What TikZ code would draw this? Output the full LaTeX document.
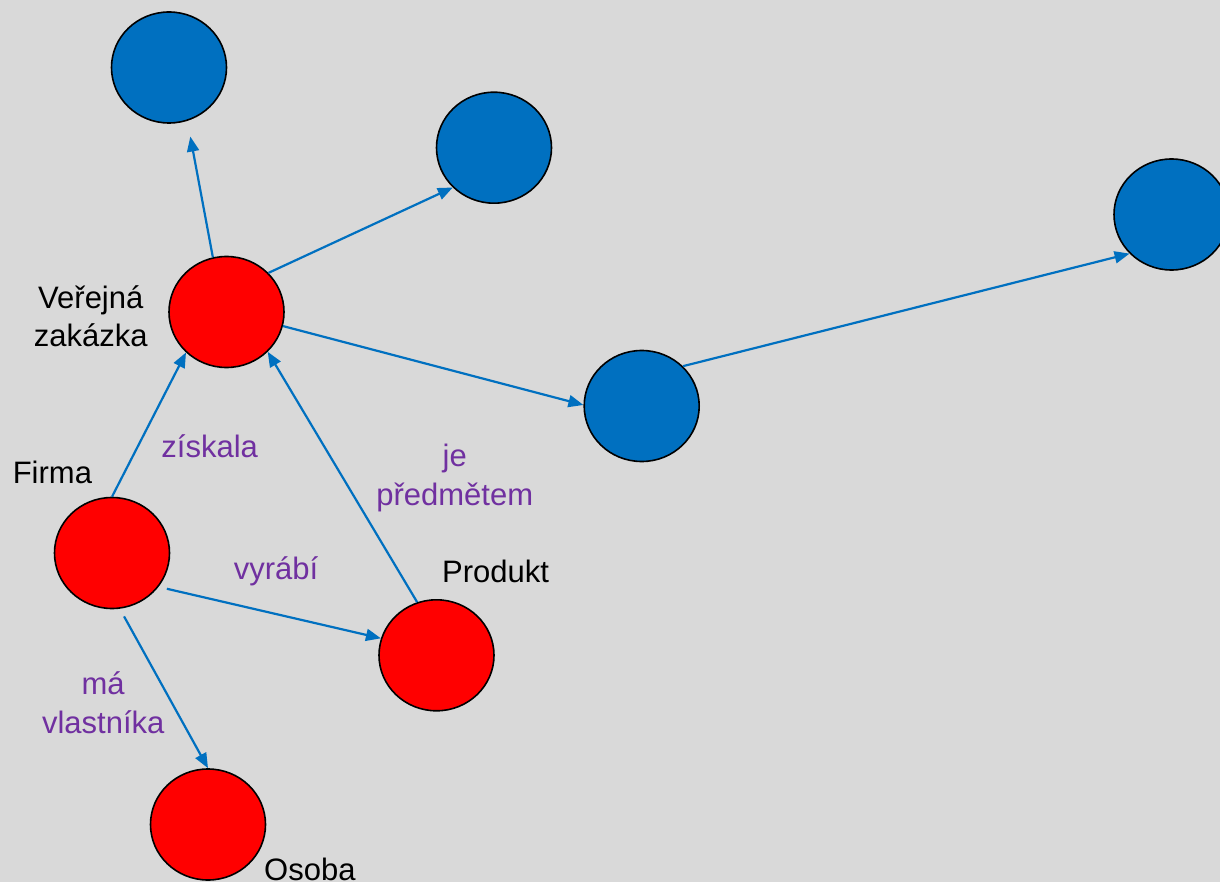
\documentclass[tikz,border=0pt]{standalone}
\usepackage{fontspec}
\setmainfont{Liberation Sans}
\usetikzlibrary{arrows.meta,shapes.geometric}
\definecolor{bg}{HTML}{D9D9D9}
\definecolor{nodeblue}{HTML}{0070C0}
\definecolor{nodered}{HTML}{FF0000}
\definecolor{lblpurple}{HTML}{7030A0}
\begin{document}
\begin{tikzpicture}[x=1pt,y=-1pt,
  entity/.style={ellipse,draw=black,line width=1.6pt,minimum width=115pt,minimum height=111pt,inner sep=0pt},
  bluenode/.style={entity,fill=nodeblue},
  rednode/.style={entity,fill=nodered},
  link/.style={draw=nodeblue,line width=2.2pt,-{Triangle[length=15pt,width=12pt]}},
  txt/.style={inner sep=0pt,font=\fontsize{31pt}{38.5pt}\selectfont,text=black},
  rel/.style={txt,text=lblpurple,align=center,anchor=base}
]
\useasboundingbox (0,0) rectangle (1220,882);
\clip (0,0) rectangle (1220,882);
\fill[bg] (0,0) rectangle (1220,882);

% nodes
\node[bluenode] (B1) at (169,67.5) {};
\node[bluenode] (B2) at (494,147.7) {};
\node[bluenode] (B3) at (1171.5,214.5) {};
\node[bluenode] (B4) at (641.7,406) {};
\node[rednode] (V) at (226.5,312) {};
\node[rednode] (F) at (112,553) {};
\node[rednode] (P) at (436.5,655.3) {};
\node[rednode] (O) at (208,824.5) {};

% connectors
\draw[link,shorten >=15.9pt] (V.104) -- (B1.-71.7);
\draw[link] (V.43.2) -- (B2.-136.6);
\draw[link] (V.-14.3) -- (B4.179);
\draw[link] (B4.44) -- (B3.-137.2);
\draw[link] (F.90) -- (V.225.6);
\draw[link] (P.110) -- (V.-44.4);
\draw[link,shorten <=8.5pt] (F.-36.9) -- (P.163.6);
\draw[link,shorten <=8.7pt] (F.-82.4) -- (O.90);

% labels (base anchor of a two-line node = baseline of its last line)
\node[txt,align=center,anchor=base] (tV) at (90.8,346.7) {Veřejná\\zakázka};
\node[txt,anchor=base west] (tF) at (12.6,483.3) {Firma};
\node[txt,anchor=base west] (tP) at (442,582.7) {Produkt};
\node[txt,anchor=base west] (tO) at (264,880) {Osoba};
\node[rel] (lz) at (209.7,457.3) {získala};
\node[rel] (lj) at (454.7,505) {je\\předmětem};
\node[rel] (lv) at (276,579) {vyrábí};
\node[rel] (lm) at (103.2,733.3) {má\\vlastníka};
\end{tikzpicture}
\end{document}
